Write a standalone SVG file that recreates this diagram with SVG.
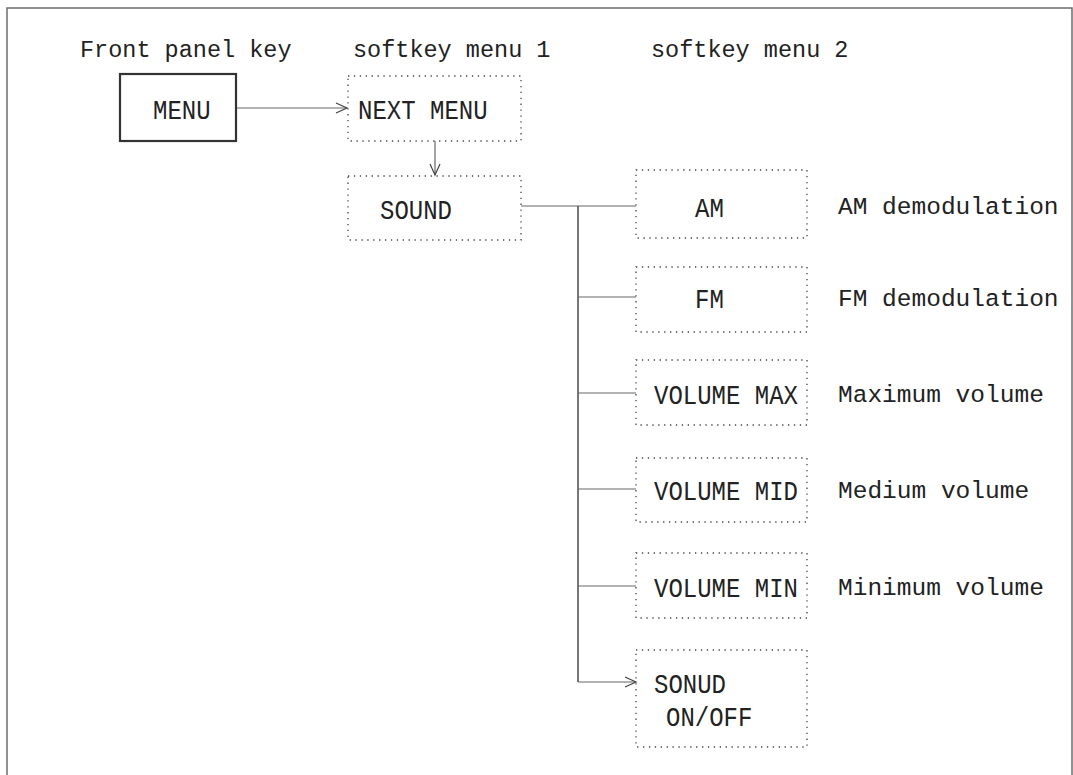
<svg xmlns="http://www.w3.org/2000/svg" width="1073" height="775" viewBox="0 0 1073 775">
<defs>
<style>
.frame{fill:none;stroke:#6e6e6e;stroke-width:1.5}
.title{font-family:"Liberation Mono","DejaVu Sans Mono",monospace;font-size:23.5px;fill:#222}
.lbl{font-family:"Liberation Mono","DejaVu Sans Mono",monospace;font-size:24px;fill:#222}
.desc{font-family:"Liberation Mono","DejaVu Sans Mono",monospace;font-size:24.5px;fill:#222}
.solid{fill:none;stroke:#333;stroke-width:2.2}
.dot{fill:none;stroke:#444;stroke-width:1.3;stroke-dasharray:1.3 4.6}
.con{fill:none;stroke:#666;stroke-width:1.2}
.trunk{fill:none;stroke:#555;stroke-width:1.6}
</style>
<marker id="arr" markerUnits="userSpaceOnUse" markerWidth="14" markerHeight="12" viewBox="0 0 14 12" refX="12" refY="6" orient="auto">
<path d="M1,1 L12,6 L1,11" fill="none" stroke="#444" stroke-width="1.2"/>
</marker>
</defs>
<rect width="1073" height="775" fill="#fff"/>
<path class="frame" d="M7,775 V8 H1072 V775"/>

<g id="headers">
<text class="title" x="80" y="57">Front panel key</text>
<text class="title" x="353" y="57">softkey menu 1</text>
<text class="title" x="651" y="57">softkey menu 2</text>
</g>

<g id="connectors">
<line class="con" x1="237" y1="108" x2="347" y2="108" marker-end="url(#arr)"/>
<line class="con" x1="435" y1="141" x2="435" y2="175" marker-end="url(#arr)"/>
<line class="con" x1="521" y1="206" x2="636" y2="206"/>
<line class="trunk" x1="578" y1="206" x2="578" y2="682"/>
<line class="con" x1="578" y1="297" x2="636" y2="297"/>
<line class="con" x1="578" y1="393" x2="636" y2="393"/>
<line class="con" x1="578" y1="489" x2="636" y2="489"/>
<line class="con" x1="578" y1="586" x2="636" y2="586"/>
<line class="con" x1="578" y1="682" x2="636" y2="682" marker-end="url(#arr)"/>
</g>

<g id="node-menu">
<rect class="solid" x="120" y="74" width="116" height="67"/>
<text class="lbl" transform="translate(153,119) scale(1,1.17)">MENU</text>
</g>
<g id="node-next-menu">
<rect class="dot" x="348" y="76" width="173" height="65"/>
<text class="lbl" transform="translate(358,119) scale(1,1.17)">NEXT MENU</text>
</g>
<g id="node-sound">
<rect class="dot" x="348" y="176" width="173" height="64"/>
<text class="lbl" transform="translate(380,219) scale(1,1.17)">SOUND</text>
</g>
<g id="node-am">
<rect class="dot" x="636" y="170" width="171" height="68"/>
<text class="lbl" transform="translate(695,217) scale(1,1.17)">AM</text>
<text class="desc" x="838" y="214">AM demodulation</text>
</g>
<g id="node-fm">
<rect class="dot" x="636" y="267" width="171" height="65"/>
<text class="lbl" transform="translate(695,308) scale(1,1.17)">FM</text>
<text class="desc" x="838" y="306">FM demodulation</text>
</g>
<g id="node-volume-max">
<rect class="dot" x="636" y="360" width="171" height="65"/>
<text class="lbl" transform="translate(654,404) scale(1,1.17)">VOLUME MAX</text>
<text class="desc" x="838" y="402">Maximum volume</text>
</g>
<g id="node-volume-mid">
<rect class="dot" x="636" y="458" width="171" height="64"/>
<text class="lbl" transform="translate(654,500) scale(1,1.17)">VOLUME MID</text>
<text class="desc" x="838" y="498">Medium volume</text>
</g>
<g id="node-volume-min">
<rect class="dot" x="636" y="553" width="171" height="65"/>
<text class="lbl" transform="translate(654,597) scale(1,1.17)">VOLUME MIN</text>
<text class="desc" x="838" y="595">Minimum volume</text>
</g>
<g id="node-sound-onoff">
<rect class="dot" x="636" y="650" width="171" height="97"/>
<text class="lbl" transform="translate(654,693) scale(1,1.17)">SONUD</text>
<text class="lbl" transform="translate(666,726) scale(1,1.17)">ON/OFF</text>
</g>
</svg>
